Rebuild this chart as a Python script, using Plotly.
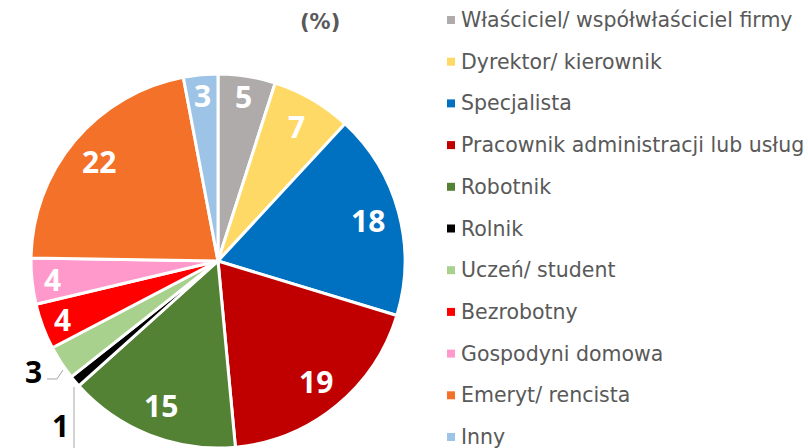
import math
import plotly.graph_objects as go

labels = ["Właściciel/ współwłaściciel firmy", "Dyrektor/ kierownik", "Specjalista",
          "Pracownik administracji lub usług", "Robotnik", "Rolnik", "Uczeń/ student",
          "Bezrobotny", "Gospodyni domowa", "Emeryt/ rencista", "Inny"]
values = [5, 7, 18, 19, 15, 1, 3, 4, 4, 22, 3]
colors = ["#AFABAB", "#FFD966", "#0070C0", "#C00000", "#548235", "#000000",
          "#A9D18E", "#FF0000", "#FF99CC", "#F37128", "#9DC3E6"]
outside = {"Rolnik", "Uczeń/ student"}

W, H = 808, 448
CX, CY, R = 218, 261, 187  # pie centre / radius in pixels (layout)
dom_x = [(CX - R) / W, (CX + R) / W]
dom_y = [(H - CY - R) / H, (H - CY + R) / H]

fig = go.Figure()
fig.add_trace(go.Pie(
    labels=labels, values=values, sort=False, direction="clockwise", rotation=0,
    marker=dict(colors=colors, line=dict(color="white", width=3)),
    textinfo="none",
    domain=dict(x=dom_x, y=dom_y),
    showlegend=False, hoverinfo="label+value",
))

LBL_FONT = "Open Sans"
anns = [dict(x=320 / W, y=1 - 22 / H, xref="paper", yref="paper", text="<b>(%)</b>",
             xanchor="center", yanchor="middle",
             showarrow=False, font=dict(family="DejaVu Sans", size=21, color="#595959"))]
shapes = []

# slice value labels, placed along each slice's mid-angle
total = sum(values)
cum = 0
for l, v in zip(labels, values):
    mid = (cum + v / 2) / total * 2 * math.pi
    cum += v
    if l in outside:
        continue
    f = 0.83 if v >= 7 else 0.89
    px = CX + f * R * math.sin(mid)
    py = CY - f * R * math.cos(mid)
    anns.append(dict(x=px / W, y=1 - py / H, xref="paper", yref="paper", text="<b>%d</b>" % v,
                     xanchor="center", yanchor="middle", showarrow=False,
                     font=dict(family=LBL_FONT, size=30, color="white")))

# legend
for i, (l, c) in enumerate(zip(labels, colors)):
    yc = 20 + i * 41.7
    shapes.append(dict(type="rect", xref="paper", yref="paper",
                       x0=447 / W, x1=455 / W, y0=1 - (yc + 4) / H, y1=1 - (yc - 4) / H,
                       fillcolor=c, line=dict(width=0)))
    anns.append(dict(x=459 / W, y=1 - yc / H, xref="paper", yref="paper", text=l,
                     xanchor="left", yanchor="middle", showarrow=False,
                     font=dict(family="DejaVu Sans", size=20.5, color="#595959")))

# outside labels with leader lines
vals = dict(zip(labels, values))
anns.append(dict(x=33 / W, y=1 - 371 / H, xref="paper", yref="paper", text="<b>%d</b>" % vals["Uczeń/ student"],
                 xanchor="center", yanchor="middle",
                 showarrow=False, font=dict(family=LBL_FONT, size=30, color="black")))
anns.append(dict(x=60 / W, y=1 - 425 / H, xref="paper", yref="paper", text="<b>%d</b>" % vals["Rolnik"],
                 xanchor="center", yanchor="middle",
                 showarrow=False, font=dict(family=LBL_FONT, size=30, color="black")))
shapes.append(dict(type="path", xref="paper", yref="paper",
                   path="M %f,%f L %f,%f L %f,%f" % (47 / W, 1 - 379 / H, 57 / W, 1 - 379 / H, 63 / W, 1 - 370 / H),
                   line=dict(color="#A6A6A6", width=1)))
shapes.append(dict(type="line", xref="paper", yref="paper",
                   x0=74 / W, x1=74 / W, y0=1 - 387 / H, y1=0,
                   line=dict(color="#A6A6A6", width=1)))

fig.update_layout(width=W, height=H, margin=dict(l=0, r=0, t=0, b=0),
                  paper_bgcolor="white", plot_bgcolor="white",
                  annotations=anns, shapes=shapes)
fig.write_html("out.html", post_script="document.body.style.margin='0';",
               config={"displayModeBar": False})
